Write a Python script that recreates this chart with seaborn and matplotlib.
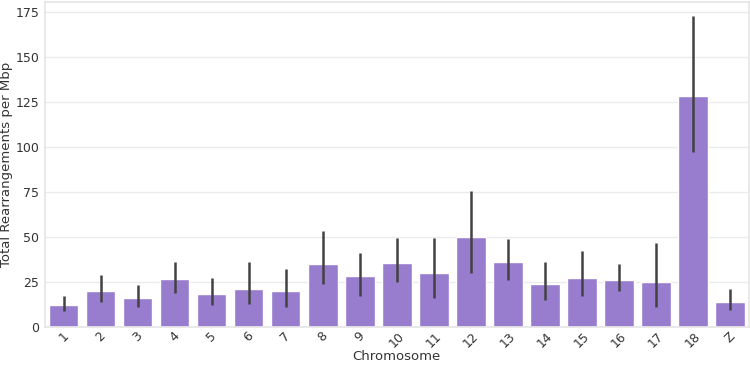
import matplotlib
matplotlib.use("Agg")
import matplotlib.pyplot as plt
import pandas as pd
import seaborn as sns

CHROMOSOMES = [str(i) for i in range(1, 19)] + ["Z"]
RATES = [12, 20, 16, 26.5, 18, 21, 20, 35, 28, 35.5, 30, 50, 36, 24, 27, 26, 25, 128, 14]
CI_LOW = [9, 14, 11, 19, 12, 12.5, 11, 24, 17, 25, 16, 30, 26, 15, 17, 20, 11, 97, 9.5]
CI_HIGH = [17, 29, 23, 36, 27, 36, 32, 53, 41, 49.5, 49.5, 75.5, 49, 36, 42, 35, 46.5, 172.5, 21]

sns.set_theme(style="whitegrid",
              rc={"grid.color": "#ebebeb", "axes.edgecolor": "#e6e6e6",
                  "text.color": "#333333", "axes.labelcolor": "#333333",
                  "xtick.color": "#333333", "ytick.color": "#333333",
                  "xtick.major.size": 0, "ytick.major.size": 0,
                  "xtick.major.pad": 2, "ytick.major.pad": 4,
                  "xtick.labelsize": 9, "ytick.labelsize": 9,
                  "axes.labelsize": 9.5})


def main():
    df = pd.DataFrame({"Chromosome": CHROMOSOMES, "rate": RATES,
                       "lo": CI_LOW, "hi": CI_HIGH})
    fig, ax = plt.subplots(figsize=(7.5, 3.66), dpi=100)
    sns.barplot(data=df, x="Chromosome", y="rate", color="mediumpurple",
                errorbar=None, ax=ax)
    ax.vlines(range(len(df)), df["lo"], df["hi"], color="#424242", lw=1.8)
    ax.set_xlabel("Chromosome", labelpad=0)
    ax.set_ylabel("Total Rearrangements per Mbp", labelpad=2)
    ax.set_xlim(-0.5, len(df) - 0.5)
    ax.set_ylim(0, 180.5)
    ax.set_yticks(range(0, 176, 25))
    ax.tick_params(axis="x", rotation=45)
    fig.subplots_adjust(left=0.06, right=0.998, top=0.995, bottom=0.107)
    fig.savefig("out.png", dpi=100)
    plt.close(fig)


if __name__ == "__main__":
    main()
